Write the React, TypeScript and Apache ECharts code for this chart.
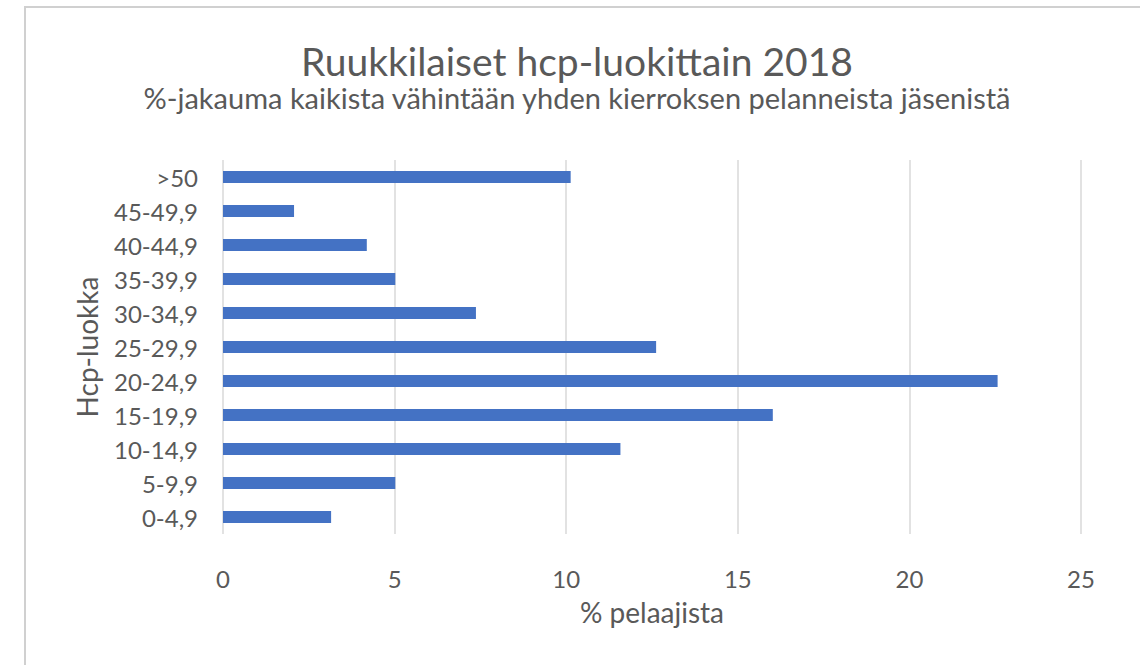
import React, { useEffect, useRef } from "react";
import * as echarts from "echarts";

const categories = ["0-4,9", "5-9,9", "10-14,9", "15-19,9", "20-24,9", "25-29,9", "30-34,9", "35-39,9", "40-44,9", "45-49,9", ">50"];
const values = [3.15, 5.02, 11.58, 16.02, 22.57, 12.62, 7.37, 5.02, 4.19, 2.07, 10.13];
const titleText = "Ruukkilaiset hcp-luokittain 2018";
const subtitleText = "%-jakauma kaikista vähintään yhden kierroksen pelanneista jäsenistä";
const xAxisName = "% pelaajista";
const yAxisName = "Hcp-luokka";

const FONT = "Lato";
const GREY = "#595959";

export default function App() {
  const ref = useRef<HTMLDivElement>(null);
  useEffect(() => {
    if (!ref.current) return;
    const chart = echarts.init(ref.current, null, { renderer: "svg" });
    chart.setOption({
      animation: false,
      backgroundColor: "#ffffff",
      textStyle: { fontFamily: FONT },
      graphic: [
        {
          type: "rect",
          shape: { x: 25, y: 7, width: 1130, height: 680 },
          style: { fill: "none", stroke: "#d0d0d0", lineWidth: 2 },
          silent: true,
        },
        {
          type: "text",
          x: 577,
          y: 61,
          style: { text: titleText, fill: GREY, font: `39px ${FONT}`, align: "center", verticalAlign: "middle" },
        },
        {
          type: "text",
          x: 577,
          y: 97,
          style: { text: subtitleText, fill: GREY, font: `29px ${FONT}`, align: "center", verticalAlign: "middle" },
        },
      ],
      grid: { left: 223, right: 59, top: 160, bottom: 131, containLabel: false },
      xAxis: {
        type: "value",
        min: 0,
        max: 25,
        interval: 5,
        name: xAxisName,
        nameLocation: "middle",
        nameGap: 64,
        nameTextStyle: { color: GREY, fontSize: 28, fontFamily: FONT },
        axisLine: { show: false },
        axisTick: { show: false },
        axisLabel: { color: GREY, fontSize: 24, fontFamily: FONT, margin: 32 },
        splitLine: { show: true, lineStyle: { color: "#d9d9d9", width: 1.5 } },
      },
      yAxis: {
        type: "category",
        data: categories,
        name: yAxisName,
        nameLocation: "middle",
        nameGap: 122,
        nameRotate: 90,
        nameTextStyle: { color: GREY, fontSize: 28, fontFamily: FONT },
        axisLine: { show: false },
        axisTick: { show: false },
        axisLabel: { color: GREY, fontSize: 24, fontFamily: FONT, margin: 25 },
        splitLine: { show: false },
      },
      series: [
        {
          type: "bar",
          data: values,
          barWidth: 12,
          itemStyle: { color: "#4472C4" },
        },
      ],
    });
    return () => chart.dispose();
  }, []);
  return (
    <div
      ref={ref}
      style={{ position: "fixed", left: 0, top: 0, width: 1140, height: 665 }}
    />
  );
}
